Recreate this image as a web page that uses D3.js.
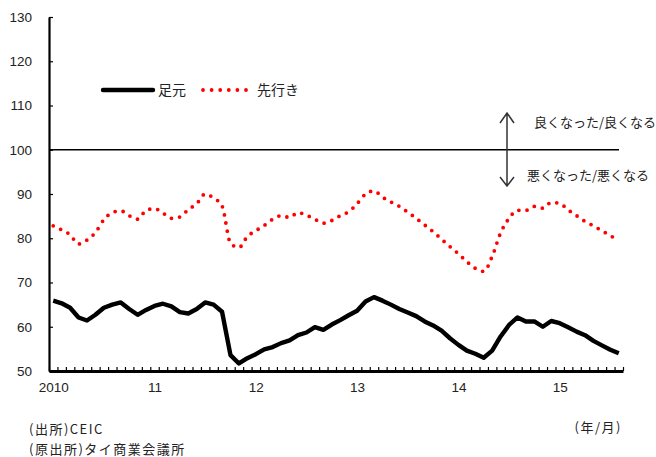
<!DOCTYPE html>
<html lang="ja">
<head>
<meta charset="UTF-8">
<script src="https://d3js.org/d3.v7.min.js"></script>
<style>
    body { margin: 0; background: #fff; }
    svg { display: block; }
    .num { font-family: "Liberation Sans", Arial, sans-serif; font-size: 13.5px; fill: #222; }
    .jp { font-family: "Noto Sans CJK JP", sans-serif; fill: #222; }
    .note { letter-spacing: 1.5px; }
</style>
</head>
<body>
<div id="chart"></div>
<script>
// monthly, Jan 2010 - Aug 2015
const months = d3.range(68).map(i => `${2010 + Math.floor(i / 12)}-${(i % 12) + 1}`);
const yearTickIndex = [0, 12, 24, 36, 48, 60];
const yearTickLabels = ["2010", "11", "12", "13", "14", "15"];
const yTicks = [50, 60, 70, 80, 90, 100, 110, 120, 130];

// 足元 (current conditions)
const current = [
    65.9, 65.3, 64.3, 62.1, 61.4, 62.7, 64.3, 65.0, 65.5, 64.0, 62.7, 63.8,
    64.7, 65.2, 64.6, 63.3, 63.0, 64.0, 65.5, 65.0, 63.4, 53.6, 51.7, 52.9,
    53.8, 54.9, 55.4, 56.3, 56.9, 58.1, 58.7, 59.9, 59.3, 60.5, 61.5, 62.6,
    63.6, 65.7, 66.7, 65.9, 65.0, 64.0, 63.2, 62.4, 61.2, 60.3, 59.1, 57.4,
    55.9, 54.6, 53.9, 53.0, 54.6, 57.8, 60.4, 62.1, 61.2, 61.2, 60.0, 61.3,
    60.8, 59.9, 58.9, 58.1, 56.8, 55.8, 54.8, 54.0
];
// 先行き (outlook)
const outlook = [
    82.8, 81.9, 80.8, 78.7, 79.6, 81.3, 84.2, 85.8, 86.2, 85.1, 84.3, 86.3,
    86.7, 85.7, 84.5, 84.8, 86.5, 87.8, 90.0, 89.1, 87.3, 78.9, 77.9, 80.4,
    81.7, 82.9, 84.3, 85.1, 84.7, 85.8, 85.2, 84.3, 83.4, 84.0, 85.1, 86.0,
    87.8, 90.0, 90.7, 89.3, 88.2, 87.2, 85.9, 84.5, 83.0, 81.5, 79.8, 78.1,
    76.5, 74.7, 73.2, 72.5, 75.9, 81.2, 84.5, 86.3, 86.3, 87.2, 86.8, 88.1,
    87.9, 86.4, 85.1, 83.8, 82.8, 81.7, 80.6, 79.4
];

const W = 656, H = 457;
const plotLeft = 49, plotRight = 623, plotTop = 17, plotBottom = 371;

const svg = d3.select("#chart").append("svg")
    .attr("width", W)
    .attr("height", H);

const x = d3.scaleLinear().domain([0, months.length]).range([plotLeft, plotRight]);
const y = d3.scaleLinear().domain([50, 130]).range([plotBottom, plotTop]);

// y axis
const yAxis = svg.append("g")
    .attr("transform", `translate(${plotLeft},0)`)
    .call(d3.axisLeft(y).tickValues(yTicks).tickSizeInner(-4).tickSizeOuter(0).tickPadding(17));
yAxis.select(".domain").attr("stroke", "#000").attr("stroke-width", 2.2);
yAxis.selectAll(".tick line").attr("stroke", "#000").attr("stroke-width", 1.2);
yAxis.selectAll("text").attr("class", "num");
yAxis.attr("font-size", null).attr("font-family", null);

// x axis: month boundary ticks
const xAxis = svg.append("g")
    .attr("transform", `translate(0,${plotBottom})`)
    .call(d3.axisBottom(x).tickValues(d3.range(months.length + 1)).tickSizeInner(-4).tickSizeOuter(0).tickFormat(""));
xAxis.select(".domain").attr("stroke", "#000").attr("stroke-width", 2.8);
xAxis.selectAll(".tick line").attr("stroke", "#000").attr("stroke-width", 1.2);

// year labels
const xLabels = svg.append("g")
    .attr("transform", `translate(0,${plotBottom})`)
    .call(d3.axisBottom(x).tickValues(yearTickIndex.map(i => i + 0.5)).tickSize(0).tickPadding(11)
        .tickFormat((d, i) => yearTickLabels[i]));
xLabels.select(".domain").remove();
xLabels.selectAll("text").attr("class", "num");
xLabels.attr("font-size", null).attr("font-family", null);

// reference line at 100
svg.append("line")
    .attr("x1", plotLeft).attr("x2", 619)
    .attr("y1", y(100)).attr("y2", y(100))
    .attr("stroke", "#000").attr("stroke-width", 1.6);

// lines
const lineCurrent = d3.line()
    .x((d, i) => x(i + 0.5))
    .y(d => y(d));

const lineOutlook = d3.line()
    .x((d, i) => x(i + 0.5))
    .y(d => y(d))
    .curve(d3.curveMonotoneX);

svg.append("path")
    .datum(outlook)
    .attr("fill", "none")
    .attr("stroke", "#ff0000")
    .attr("stroke-width", 3.8)
    .attr("stroke-linecap", "round")
    .attr("stroke-dasharray", "0 8.2")
    .attr("d", lineOutlook);

svg.append("path")
    .datum(current)
    .attr("fill", "none")
    .attr("stroke", "#000")
    .attr("stroke-width", 4.4)
    .attr("stroke-linejoin", "round")
    .attr("d", lineCurrent);

// legend
svg.append("line")
    .attr("x1", 103).attr("x2", 153).attr("y1", 90).attr("y2", 90)
    .attr("stroke", "#000").attr("stroke-width", 4.4).attr("stroke-linecap", "round");
svg.append("text").attr("class", "jp").attr("x", 158).attr("y", 90)
    .attr("dy", "0.36em").attr("font-size", "14px").text("足元");
svg.append("line")
    .attr("x1", 203).attr("x2", 247).attr("y1", 90).attr("y2", 90)
    .attr("stroke", "#ff0000").attr("stroke-width", 3.8)
    .attr("stroke-linecap", "round").attr("stroke-dasharray", "0 8.6");
svg.append("text").attr("class", "jp").attr("x", 257).attr("y", 90)
    .attr("dy", "0.36em").attr("font-size", "14px").text("先行き");

// up / down arrow
const ax = 507;
svg.append("path")
    .attr("d", `M${ax},113 L${ax},186 M${ax - 7},123 L${ax},113 L${ax + 7},123 M${ax - 7},177 L${ax},186 L${ax + 7},177`)
    .attr("fill", "none").attr("stroke", "#333").attr("stroke-width", 1.5);
svg.append("text").attr("class", "jp").attr("x", 534).attr("y", 122)
    .attr("dy", "0.36em").attr("font-size", "13px").text("良くなった/良くなる");
svg.append("text").attr("class", "jp").attr("x", 527).attr("y", 175)
    .attr("dy", "0.36em").attr("font-size", "13px").text("悪くなった/悪くなる");

// notes
svg.append("text").attr("class", "jp note").attr("x", 622).attr("y", 427)
    .attr("dy", "0.36em").attr("text-anchor", "end").attr("font-size", "13px").text("(年/月)");
svg.append("text").attr("class", "jp note").attr("x", 29).attr("y", 429)
    .attr("dy", "0.36em").attr("font-size", "13px").text("(出所)CEIC");
svg.append("text").attr("class", "jp note").attr("x", 29).attr("y", 449)
    .attr("dy", "0.36em").attr("font-size", "13px").text("(原出所)タイ商業会議所");
</script>
</body>
</html>
